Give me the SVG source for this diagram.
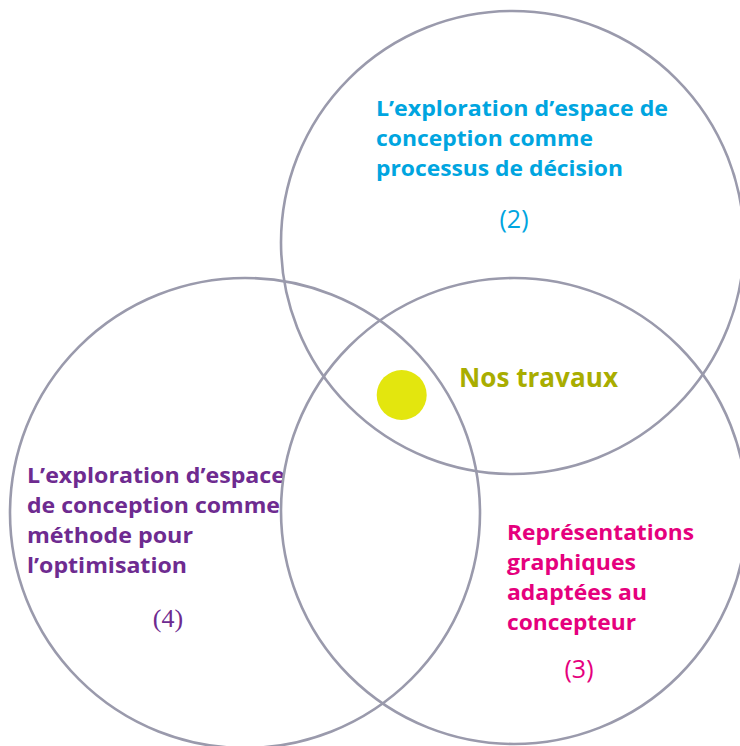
<svg xmlns="http://www.w3.org/2000/svg" width="740" height="746" viewBox="0 0 740 746">
<style>
.c{fill:none;stroke:#9a9aac;stroke-width:2.6}
.t{font-family:"Open Sans","Noto Sans","Liberation Sans",sans-serif;font-weight:700;font-size:21px}
.n{font-family:"Open Sans","Liberation Sans",sans-serif;font-weight:400;font-size:25px;text-anchor:middle}
.s{font-family:"Liberation Serif","DejaVu Serif",serif;font-size:26px;text-anchor:middle}
.b{fill:#00a5e0}.p{fill:#6e2b90}.k{fill:#e5007d}.o{fill:#a9ad00}
</style>
<rect width="740" height="746" fill="#fff"/>
<g id="circle-2">
<circle class="c" cx="512.5" cy="242.5" r="231.5"/>
<text class="t b" x="376" y="116" textLength="292" lengthAdjust="spacingAndGlyphs">L’exploration d’espace de</text>
<text class="t b" x="376" y="146" textLength="217" lengthAdjust="spacingAndGlyphs">conception comme</text>
<text class="t b" x="376" y="176" textLength="247" lengthAdjust="spacingAndGlyphs">processus de décision</text>
<text class="n b" x="514" y="228">(2)</text>
</g>
<g id="circle-4">
<circle class="c" cx="245" cy="513" r="235"/>
<text class="t p" x="27" y="483" textLength="258" lengthAdjust="spacingAndGlyphs">L’exploration d’espace</text>
<text class="t p" x="27" y="513" textLength="253" lengthAdjust="spacingAndGlyphs">de conception comme</text>
<text class="t p" x="27" y="543" textLength="166" lengthAdjust="spacingAndGlyphs">méthode pour</text>
<text class="t p" x="27" y="573" textLength="160" lengthAdjust="spacingAndGlyphs">l’optimisation</text>
<text class="s p" x="168" y="627">(4)</text>
</g>
<g id="circle-3">
<circle class="c" cx="514" cy="511" r="233"/>
<text class="t k" x="507" y="540" textLength="187" lengthAdjust="spacingAndGlyphs">Représentations</text>
<text class="t k" x="507" y="570" textLength="129" lengthAdjust="spacingAndGlyphs">graphiques</text>
<text class="t k" x="507" y="600" textLength="140" lengthAdjust="spacingAndGlyphs">adaptées au</text>
<text class="t k" x="507" y="630" textLength="129" lengthAdjust="spacingAndGlyphs">concepteur</text>
<text class="n k" x="579" y="678">(3)</text>
</g>
<g id="nos-travaux">
<circle cx="401.7" cy="395" r="25" fill="#e3e60e"/>
<text class="t o" x="459" y="387" style="font-size:27px" textLength="159" lengthAdjust="spacingAndGlyphs">Nos travaux</text>
</g>
</svg>
